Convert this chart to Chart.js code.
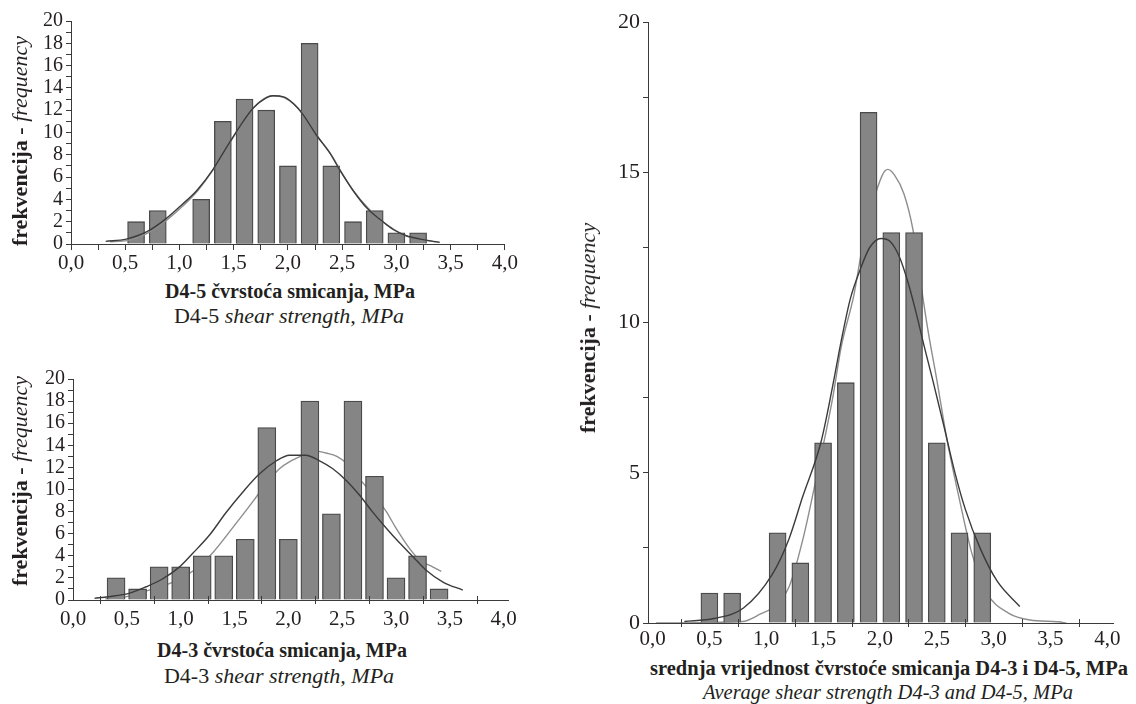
<!DOCTYPE html>
<html>
<head>
<meta charset="utf-8">
<title>Shear strength histograms D4-3 / D4-5</title>
<script src="https://cdn.jsdelivr.net/npm/chart.js@4.4.1/dist/chart.umd.min.js"></script>
<style>
    body { margin: 0; width: 1136px; height: 704px; background: #fff; position: relative; overflow: hidden;
           font-family: "Liberation Serif", "DejaVu Serif", serif; color: #231f20; }
    .box { position: absolute; }
    .ttl { position: absolute; white-space: nowrap; font-size: 20px; line-height: 1; transform: translate(-50%, -50%); }
    .sub { font-size: 22px; }
    .ytl { position: absolute; white-space: nowrap; font-size: 22px; line-height: 1; transform: translate(-50%, -50%) rotate(-90deg); }
</style>
</head>
<body>
<div class="box" style="left:21px;top:6px;width:498px;height:272px"><canvas id="c45"></canvas></div>
<div class="box" style="left:23px;top:364px;width:499px;height:270px"><canvas id="c43"></canvas></div>
<div class="box" style="left:598px;top:6px;width:529px;height:647px"><canvas id="cavg"></canvas></div>

<div class="ytl" style="left:20px;top:141px"><b>frekvencija - </b><i>frequency</i></div>
<div class="ttl" style="left:290px;top:291px"><b>D4-5 čvrstoća smicanja, MPa</b></div>
<div class="ttl sub" style="left:289px;top:316px">D4-5 <i>shear strength, MPa</i></div>

<div class="ytl" style="left:20px;top:481px"><b>frekvencija - </b><i>frequency</i></div>
<div class="ttl" style="left:282px;top:650px"><b>D4-3 čvrstoća smicanja, MPa</b></div>
<div class="ttl sub" style="left:279px;top:676px">D4-3 <i>shear strength, MPa</i></div>

<div class="ytl" style="left:588px;top:328px"><b>frekvencija - </b><i>frequency</i></div>
<div class="ttl" style="left:889px;top:668px;font-size:20.5px"><b>srednja vrijednost čvrstoće smicanja D4-3 i D4-5, MPa</b></div>
<div class="ttl" style="left:888px;top:692px;font-size:20.5px"><i>Average shear strength D4-3 and D4-5, MPa</i></div>

<script>
// tick labels
var xLabels = ['0,0', '0,5', '1,0', '1,5', '2,0', '2,5', '3,0', '3,5', '4,0'];
var xLabelVals = [0, 0.5, 1, 1.5, 2, 2.5, 3, 3.5, 4];
var xQuarterVals = [0, 0.25, 0.5, 0.75, 1, 1.25, 1.5, 1.75, 2, 2.25, 2.5, 2.75, 3, 3.25, 3.5, 3.75, 4];
var xOffsetTicks = [0.25, 0.75, 1.25, 1.75, 2.25, 2.75, 3.25, 3.75];

// D4-5 histogram + two fitted curves
var d45Bins = [0.6, 0.8, 1.0, 1.2, 1.4, 1.6, 1.8, 2.0, 2.2, 2.4, 2.6, 2.8, 3.0, 3.2];
var d45Counts = [2, 3, 0, 4, 11, 13, 12, 7, 18, 7, 2, 3, 1, 1];
var d45FitX = [0.32, 0.51, 0.70, 0.88, 1.02, 1.16, 1.31, 1.43, 1.56, 1.68, 1.80, 1.86, 1.96, 2.05, 2.14, 2.26, 2.39, 2.48, 2.60, 2.73, 2.85, 2.97, 3.09, 3.22, 3.34, 3.40];
var d45FitY = [0.24, 0.44, 1.1, 2.3, 3.5, 4.8, 6.7, 8.6, 10.6, 12.2, 13.1, 13.3, 13.2, 12.6, 11.6, 9.8, 8.1, 6.6, 4.8, 3.2, 2.2, 1.3, 0.74, 0.44, 0.24, 0.15];
var d45KdeX = [0.36, 0.52, 0.71, 0.89, 1.03, 1.17, 1.32, 1.44, 1.57, 1.69, 1.81, 1.87, 1.97, 2.06, 2.15, 2.27, 2.40, 2.49, 2.61, 2.74, 2.86, 2.98, 3.10, 3.23, 3.36];
var d45KdeY = [0.2, 0.3, 1.0, 2.2, 3.4, 4.8, 6.8, 8.7, 10.7, 12.3, 13.2, 13.3, 13.1, 12.5, 11.5, 9.7, 8.0, 6.5, 4.7, 3.2, 2.1, 1.3, 0.7, 0.4, 0.2];

// D4-3 histogram + normal fit + smoothed curve
var d43Bins = [0.4, 0.6, 0.8, 1.0, 1.2, 1.4, 1.6, 1.8, 2.0, 2.2, 2.4, 2.6, 2.8, 3.0, 3.2, 3.4];
var d43Counts = [2, 1, 3, 3, 4, 4, 5.5, 15.6, 5.5, 18, 7.8, 18, 11.2, 2, 4, 1];
var d43FitX = [0.20, 0.33, 0.52, 0.68, 0.83, 0.99, 1.11, 1.27, 1.42, 1.58, 1.73, 1.89, 2.01, 2.16, 2.29, 2.41, 2.54, 2.66, 2.78, 2.91, 3.03, 3.16, 3.28, 3.44, 3.62];
var d43FitY = [0.15, 0.3, 0.6, 1.2, 1.9, 3.0, 4.2, 5.9, 7.9, 9.8, 11.4, 12.6, 13.1, 13.1, 12.6, 11.9, 10.8, 9.5, 8.0, 6.5, 5.2, 3.9, 2.7, 1.6, 0.9];
var d43KdeX = [0.30, 0.50, 0.60, 0.75, 0.90, 1.05, 1.20, 1.30, 1.48, 1.67, 1.80, 1.92, 2.01, 2.14, 2.25, 2.35, 2.45, 2.55, 2.63, 2.72, 2.82, 2.91, 3.00, 3.13, 3.22, 3.34, 3.42];
var d43KdeY = [0.1, 0.3, 0.6, 1.0, 1.5, 2.2, 3.3, 4.3, 6.5, 8.9, 10.6, 11.9, 12.5, 13.1, 13.5, 13.3, 13.0, 12.3, 11.3, 10.3, 9.2, 8.0, 6.5, 4.6, 3.6, 3.0, 2.6];

// average of D4-3 and D4-5
var avgBins = [0.5, 0.7, 0.9, 1.1, 1.3, 1.5, 1.7, 1.9, 2.1, 2.3, 2.5, 2.7, 2.9];
var avgCounts = [1, 1, 0, 3, 2, 6, 8, 17, 13, 13, 6, 3, 3];
var avgFitX = [0.28, 0.54, 0.80, 1.05, 1.20, 1.32, 1.48, 1.58, 1.66, 1.74, 1.83, 1.91, 2.01, 2.09, 2.17, 2.25, 2.32, 2.39, 2.47, 2.56, 2.66, 2.75, 2.88, 3.03, 3.23];
var avgFitY = [0.05, 0.15, 0.5, 1.6, 2.8, 4.2, 6.0, 7.8, 9.4, 10.8, 11.8, 12.5, 12.8, 12.7, 12.2, 11.3, 10.3, 9.2, 8.0, 6.6, 5.0, 3.8, 2.5, 1.4, 0.55];
var avgKdeX = [0.03, 0.79, 0.95, 1.05, 1.20, 1.32, 1.45, 1.58, 1.66, 1.77, 1.86, 2.02, 2.07, 2.13, 2.21, 2.29, 2.34, 2.42, 2.50, 2.59, 2.70, 2.81, 2.94, 3.13, 3.32, 3.57, 3.64];
var avgKdeY = [0, 0.05, 0.3, 0.5, 1.2, 2.75, 5.0, 7.4, 9.2, 10.9, 12.8, 14.9, 15.1, 14.9, 14.3, 13.1, 11.8, 9.8, 8.1, 6.1, 4.1, 2.3, 1.0, 0.33, 0.1, 0.04, 0];

var INK = '#231f20';
var AXIS = '#3a3a3a';
var BAR_FILL = '#858585';
var BAR_EDGE = '#4a4a4a';
var DARK = '#3b3b3b';
var LIGHT = '#8e8e8e';

function pts(xs, ys) {
    return xs.map(function (x, i) { return {x: x, y: ys[i]}; });
}

// short tick marks crossing the x axis, placed through the x scale
var crossTicks = {
    id: 'crossTicks',
    afterDraw: function (chart, args, opts) {
        if (!opts.values) return;
        var sc = chart.scales.x, ctx = chart.ctx, y = chart.chartArea.bottom;
        ctx.save();
        ctx.strokeStyle = AXIS;
        ctx.lineWidth = 1;
        opts.values.forEach(function (v) {
            var px = Math.round(sc.getPixelForValue(v)) + 0.5;
            ctx.beginPath();
            ctx.moveTo(px, y - opts.up);
            ctx.lineTo(px, y + opts.down);
            ctx.stroke();
        });
        ctx.restore();
    }
};

function makeChart(id, cfg) {
    var datasets = [
        {type: 'line', data: pts(cfg.fitX, cfg.fitY), borderColor: DARK, borderWidth: 1.4,
         pointRadius: 0, cubicInterpolationMode: 'monotone', fill: false, order: 0},
        {type: 'bar', data: pts(cfg.bins, cfg.counts), backgroundColor: BAR_FILL, borderColor: BAR_EDGE,
         borderWidth: 1.3, barThickness: cfg.barW, order: 1},
        {type: 'line', data: pts(cfg.kdeX, cfg.kdeY), borderColor: LIGHT, borderWidth: 1.4,
         pointRadius: 0, cubicInterpolationMode: 'monotone', fill: false, order: cfg.kdeBehind ? 2 : 0.5}
    ];
    var xVals = cfg.quarterTicks ? xQuarterVals : xLabelVals;
    new Chart(document.getElementById(id), {
        type: 'bar',
        data: {datasets: datasets},
        plugins: [crossTicks],
        options: {
            animation: false,
            responsive: true,
            maintainAspectRatio: false,
            devicePixelRatio: 1,
            layout: {padding: {top: cfg.padTop, right: 14, left: 0, bottom: 0}},
            plugins: {
                legend: {display: false},
                tooltip: {enabled: false},
                crossTicks: {values: cfg.quarterTicks ? null : xOffsetTicks, up: 4, down: 4}
            },
            scales: {
                x: {
                    type: 'linear', min: cfg.xMin, max: cfg.xMax, offset: false,
                    afterBuildTicks: function (s) { s.ticks = xVals.map(function (v) { return {value: v}; }); },
                    afterFit: function (s) { s.height = cfg.xH; },
                    ticks: {
                        autoSkip: false, maxRotation: 0, padding: cfg.xPad, color: INK,
                        font: {family: 'Liberation Serif', size: 21},
                        callback: function (v) {
                            var k = xLabelVals.indexOf(v);
                            return k < 0 ? '' : xLabels[k];
                        }
                    },
                    grid: {drawOnChartArea: false, offset: false, tickLength: cfg.xTick,
                           tickColor: cfg.quarterTicks ? AXIS : 'rgba(0,0,0,0)'},
                    border: {color: AXIS, width: 1}
                },
                y: {
                    min: 0, max: 20,
                    afterFit: function (s) { s.width = 50; },
                    ticks: {
                        stepSize: cfg.yStep, autoSkip: false, padding: 3, color: INK,
                        font: {family: 'Liberation Serif', size: cfg.yFont},
                        callback: function (v) { return v % cfg.yLabelEvery === 0 ? String(v) : ''; }
                    },
                    grid: {drawOnChartArea: false, tickLength: 5, tickColor: AXIS},
                    border: {color: AXIS, width: 1}
                }
            }
        }
    });
}

makeChart('c45', {bins: d45Bins, counts: d45Counts, fitX: d45FitX, fitY: d45FitY, kdeX: d45KdeX, kdeY: d45KdeY,
    kdeBehind: false, barW: 17, xMin: 0, xMax: 4, quarterTicks: true, xH: 34, xTick: 6, xPad: 1,
    padTop: 12, yStep: 1, yLabelEvery: 2, yFont: 20});

makeChart('c43', {bins: d43Bins, counts: d43Counts, fitX: d43FitX, fitY: d43FitY, kdeX: d43KdeX, kdeY: d43KdeY,
    kdeBehind: true, barW: 18, xMin: 0, xMax: 4.04, quarterTicks: false, xH: 34, xTick: 5, xPad: 2,
    padTop: 12, yStep: 1, yLabelEvery: 2, yFont: 20});

makeChart('cavg', {bins: avgBins, counts: avgCounts, fitX: avgFitX, fitY: avgFitY, kdeX: avgKdeX, kdeY: avgKdeY,
    kdeBehind: true, barW: 17, xMin: -0.04, xMax: 4.05, quarterTicks: false, xH: 30, xTick: 4, xPad: 0,
    padTop: 14, yStep: 2.5, yLabelEvery: 5, yFont: 22});
</script>
</body>
</html>
